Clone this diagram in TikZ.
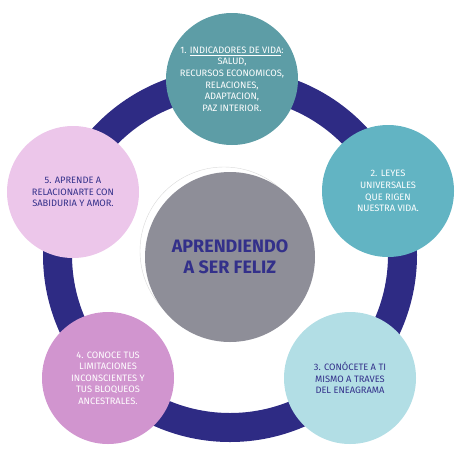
\documentclass[tikz,border=0pt]{standalone}
\usepackage{fontspec}
\setmainfont{Fira Sans}
\definecolor{ringc}{HTML}{2E2B84}
\definecolor{cA}{HTML}{5D9DA6}
\definecolor{cB}{HTML}{62B4C3}
\definecolor{cC}{HTML}{B2DEE5}
\definecolor{cD}{HTML}{D195CF}
\definecolor{cE}{HTML}{ECC6EA}
\definecolor{cM}{HTML}{8E8E98}
\definecolor{navy}{HTML}{33308A}
\begin{document}
\begin{tikzpicture}[x=1pt,y=-1pt,
  bubble/.style={circle,minimum size=132pt,inner sep=0pt,align=center,
    font=\fontsize{9.3}{11.6}\selectfont},
  hub/.style={circle,fill=cM,minimum size=170pt,inner sep=0pt,align=center,
    text=navy,font=\fontsize{18}{21}\selectfont\bfseries}]
\useasboundingbox (0,0) rectangle (460,453);
\coordinate (o) at (230,255);
\draw[ringc,line width=29pt] (o) circle[radius=172.5pt];
\node[bubble,fill=cA,text=white] (n1) at (232,79)
  {1. \underline{INDICADORES DE VIDA}:\\SALUD,\\RECURSOS ECONOMICOS,\\RELACIONES,\\ADAPTACION,\\PAZ INTERIOR.};
\node[bubble,fill=cB,text=white] (n2) at (388,191)
  {2. LEYES\\UNIVERSALES\\QUE RIGEN\\NUESTRA VIDA.};
\node[bubble,fill=cC,text=navy] (n3) at (350,378)
  {3. CONÓCETE A TI\\MISMO A TRAVES\\DEL ENEAGRAMA};
\node[bubble,fill=cD,text=white] (n4) at (108,378)
  {4. CONOCE TUS\\LIMITACIONES\\INCONSCIENTES Y\\TUS BLOQUEOS\\ANCESTRALES.};
\node[bubble,fill=cE,text=navy] (n5) at (73,192)
  {5. APRENDE A\\RELACIONARTE CON\\SABIDURIA Y AMOR.};
\draw[black!15,line width=0.4pt] (224,251) circle[radius=84pt];
\node[hub] (hub) at (230,257) {APRENDIENDO\\A SER FELIZ};
\end{tikzpicture}
\end{document}
